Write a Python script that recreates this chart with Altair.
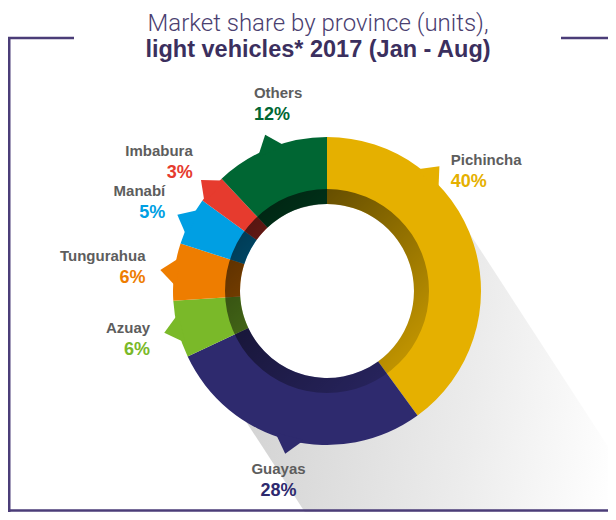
import altair as alt
import pandas as pd
import numpy as np

# ---------------- data ----------------
provinces = ["Pichincha", "Guayas", "Azuay", "Tungurahua", "Manabí", "Imbabura", "Others"]
shares = [40, 28, 6, 6, 5, 3, 12]
pct_labels = ["40%", "28%", "6%", "6%", "5%", "3%", "12%"]
colors = ["#E5B000", "#2E2A6E", "#7AB929", "#EE7D00", "#009FE3", "#E63B2E", "#006633"]

TITLE_1 = "Market share by province (units),"
TITLE_2 = "light vehicles* 2017 (Jan - Aug)"

# ---------------- layout (view pixels; view origin = page (8, 8)) ----------------
W, H = 600, 504
CX, CY = 319, 283
R_OUT, R_MID, R_IN = 154, 102, 87
TAB_R = 153
LABEL_R = 195
TAB_ANGLE_OVERRIDE = {"Pichincha": 42}
LABEL_OVERRIDE = {"Pichincha": (47, 176), "Others": (340, 199)}
FRAME = "#4b3d78"
FONT = "Liberation Sans"

df = pd.DataFrame({"province": provinces, "share": shares, "pct": pct_labels,
                   "order": list(range(len(provinces)))})
total = df["share"].sum()
cum = df["share"].cumsum()
df["mid_deg"] = (cum - df["share"] / 2) / total * 360
df["tab_deg"] = [TAB_ANGLE_OVERRIDE.get(p, m) for p, m in zip(df.province, df.mid_deg)]
lab = [LABEL_OVERRIDE.get(p, (m, LABEL_R)) for p, m in zip(df.province, df.mid_deg)]
df["lab_deg"] = [a for a, r in lab]
df["lab_r"] = [r for a, r in lab]
rad_t = np.deg2rad(df["tab_deg"])
df["tab_x"] = CX + TAB_R * np.sin(rad_t)
df["tab_y"] = CY - TAB_R * np.cos(rad_t)
rad_l = np.deg2rad(df["lab_deg"])
lx = CX + df["lab_r"] * np.sin(rad_l)
df["lab_y"] = CY - df["lab_r"] * np.cos(rad_l)


def side(a):
    if 200 < a < 330:
        return "right"
    if 170 <= a <= 200:
        return "center"
    return "left"


df["side"] = [side(a) for a in df["lab_deg"]]
shift = {"right": 12, "left": -5, "center": 0}
df["lab_x"] = lx + df["side"].map(shift)

color_scale = alt.Scale(domain=provinces, range=colors)
base = alt.Chart(df)

# long soft shadow
shadow_grad = alt.LinearGradient(
    gradient="linear", x1=-0.3, y1=0.1, x2=1.1, y2=0.4,
    stops=[alt.GradientStop(color="#d3d3d3", offset=0),
           alt.GradientStop(color="#ececec", offset=0.6),
           alt.GradientStop(color="#ffffff", offset=1)])
d = np.array([np.cos(np.deg2rad(57)), np.sin(np.deg2rad(57))])
n = np.array([d[1], -d[0]])
s0 = np.array([CX, CY]) + 6 * n
s1 = s0 + 480 * d
shadow = alt.Chart(pd.DataFrame({"k": [0]})).mark_rule(
    strokeWidth=290, stroke=shadow_grad, strokeCap="butt"
).encode(x=alt.value(float(s0[0])), y=alt.value(float(s0[1])),
         x2=alt.value(float(s1[0])), y2=alt.value(float(s1[1])))

hole = alt.Chart(pd.DataFrame({"k": [0]})).mark_arc(
    theta=0, theta2=2 * np.pi, radius=R_IN + 1, radius2=0, fill="white"
).encode(x=alt.value(CX), y=alt.value(CY))

donut = base.mark_arc(radius=R_OUT, radius2=R_IN).encode(
    theta=alt.Theta("share:Q", stack=True),
    color=alt.Color("province:N", scale=color_scale, legend=None),
    order=alt.Order("order:Q"),
    x=alt.value(CX), y=alt.value(CY),
)

ring_grad = alt.LinearGradient(
    gradient="linear", x1=0.15, y1=0.15, x2=0.85, y2=0.85,
    stops=[alt.GradientStop(color="rgba(0,0,0,0.62)", offset=0),
           alt.GradientStop(color="rgba(0,0,0,0.17)", offset=1)])
ring = alt.Chart(pd.DataFrame({"k": [0]})).mark_arc(
    theta=0, theta2=2 * np.pi, radius=R_MID, radius2=R_IN, fill=ring_grad
).encode(x=alt.value(CX), y=alt.value(CY))

TAB_PATH = "M 0 -1 L 0.87 0.05 L 0.87 0.2 L -0.87 0.2 L -0.87 0.05 Z"
tabs = base.mark_point(shape=TAB_PATH, filled=True, size=900, opacity=1, strokeWidth=0).encode(
    x=alt.X("tab_x:Q", scale=None, axis=None),
    y=alt.Y("tab_y:Q", scale=None, axis=None),
    angle=alt.Angle("tab_deg:Q", scale=None),
    color=alt.Color("province:N", scale=color_scale, legend=None),
)

label_layers = []
for sd in ["left", "right", "center"]:
    sub = base.transform_filter(alt.datum.side == sd)
    label_layers.append(sub.mark_text(
        align=sd, baseline="middle", dy=-11, font=FONT, fontWeight="bold",
        fontSize=15, color="#5d5d5d"
    ).encode(x=alt.X("lab_x:Q", scale=None, axis=None),
             y=alt.Y("lab_y:Q", scale=None, axis=None),
             text="province:N"))
    label_layers.append(sub.mark_text(
        align=sd, baseline="middle", dy=11, font=FONT, fontWeight="bold", fontSize=18
    ).encode(x=alt.X("lab_x:Q", scale=None, axis=None),
             y=alt.Y("lab_y:Q", scale=None, axis=None),
             text="pct:N",
             color=alt.Color("province:N", scale=color_scale, legend=None)))

one = pd.DataFrame({"k": [0]})
frame = [
    alt.Chart(one).mark_rule(color=FRAME, strokeWidth=2.5).encode(
        x=alt.value(1.25), y=alt.value(30), y2=alt.value(H)),
    alt.Chart(one).mark_rule(color=FRAME, strokeWidth=2.5).encode(
        x=alt.value(0), x2=alt.value(66), y=alt.value(30)),
    alt.Chart(one).mark_rule(color=FRAME, strokeWidth=2.5).encode(
        x=alt.value(553), x2=alt.value(W), y=alt.value(30)),
    alt.Chart(one).mark_rule(color=FRAME, strokeWidth=2.5).encode(
        x=alt.value(0), x2=alt.value(W), y=alt.value(H - 1.5)),
]

titles = [
    alt.Chart(pd.DataFrame({"t": [TITLE_1]})).mark_text(
        align="center", baseline="alphabetic", font="Roboto", fontWeight=300,
        fontSize=24, color="#4a4070"
    ).encode(text="t:N", x=alt.value(310), y=alt.value(22.5)),
    alt.Chart(pd.DataFrame({"t": [TITLE_2]})).mark_text(
        align="center", baseline="alphabetic", font=FONT, fontWeight="bold",
        fontSize=23.5, color="#3b2f5e"
    ).encode(text="t:N", x=alt.value(310), y=alt.value(49)),
]

chart = alt.layer(shadow, hole, donut, ring, tabs, *label_layers, *frame, *titles).properties(
    width=W, height=H, padding=0, autosize="none", background="white"
).configure_view(stroke=None)

chart.save("out.html", embed_options={"renderer": "svg", "actions": False})
